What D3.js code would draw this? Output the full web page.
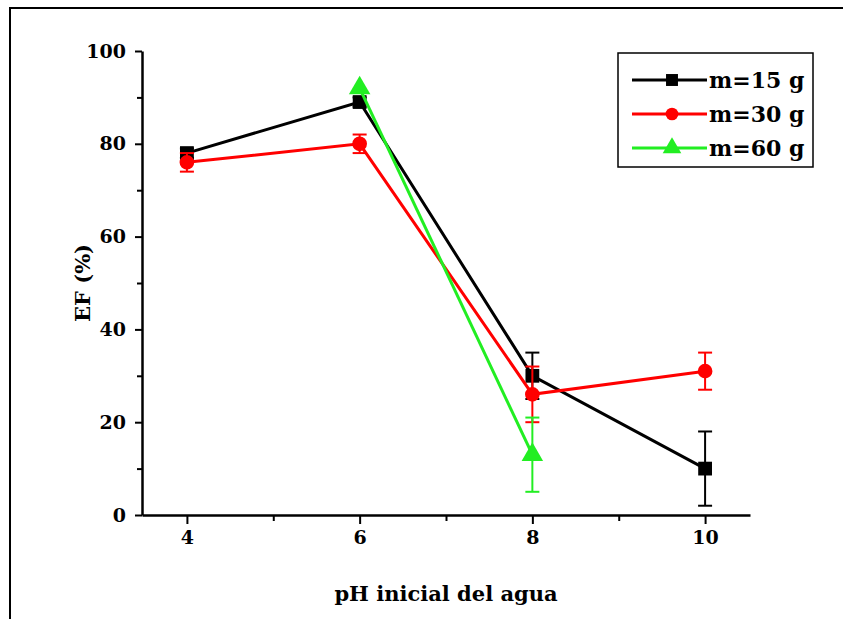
<!DOCTYPE html>
<html>
<head>
<meta charset="utf-8">
<script src="https://cdn.jsdelivr.net/npm/d3@7"></script>
<style>
  body { margin: 0; background: #fff; }
  svg text { font-family: "DejaVu Serif", "Liberation Serif", serif; font-weight: bold; }
</style>
</head>
<body>
<div id="chart"></div>
<script>
// pH values and series (EF %, error)
const phValues = [4, 6, 8, 10];
const m15 = [78, 89, 30, 10];
const m15Err = [1, 1, 5, 8];
const m30 = [76, 80, 26, 31];
const m30Err = [2, 2, 6, 4];
const m60Ph = [6, 8];
const m60 = [92, 13];
const m60Err = [0, 8];
const xTicks = [4, 6, 8, 10];
const yTicks = [0, 20, 40, 60, 80, 100];

const width = 843, height = 619;
const margin = { top: 51, right: 93, bottom: 104, left: 142 };

const svg = d3.select("#chart").append("svg")
    .attr("width", width)
    .attr("height", height);

// outer frame (only top and left edges fall inside the picture)
svg.append("rect")
    .attr("x", 10).attr("y", 8)
    .attr("width", 900).attr("height", 700)
    .attr("fill", "none")
    .attr("stroke", "#000")
    .attr("stroke-width", 2);

const x = d3.scaleLinear()
    .domain([3.48, 10.52])
    .range([margin.left, width - margin.right]);

const y = d3.scaleLinear()
    .domain([0, 100])
    .range([height - margin.bottom, margin.top]);

// axes
svg.append("g")
    .attr("transform", "translate(0," + y(0) + ")")
    .call(d3.axisBottom(x).tickValues(xTicks).tickFormat(d3.format("d")).tickSize(9).tickSizeOuter(0).tickPadding(7));
svg.append("g")
    .attr("transform", "translate(0," + y(0) + ")")
    .call(d3.axisBottom(x).tickValues([5, 7, 9]).tickFormat("").tickSize(6).tickSizeOuter(0))
    .select(".domain").remove();

svg.append("g")
    .attr("transform", "translate(" + x.range()[0] + ",0)")
    .call(d3.axisLeft(y).tickValues(yTicks).tickSize(7).tickSizeOuter(0).tickPadding(9));
svg.append("g")
    .attr("transform", "translate(" + x.range()[0] + ",0)")
    .call(d3.axisLeft(y).tickValues([10, 30, 50, 70, 90]).tickFormat("").tickSize(5).tickSizeOuter(0))
    .select(".domain").remove();

svg.selectAll(".domain").attr("stroke-width", 2.5);
svg.selectAll(".tick line").attr("stroke-width", 2);
svg.selectAll(".tick text").style("font-size", "19px").attr("fill", "#000");

// axis titles
svg.append("text")
    .attr("x", (x.range()[0] + x.range()[1]) / 2)
    .attr("y", 601)
    .attr("text-anchor", "middle")
    .style("font-size", "21px")
    .text("pH inicial del agua");

svg.append("text")
    .attr("transform", "translate(90," + ((y(0) + y(100)) / 2) + ") rotate(-90)")
    .attr("text-anchor", "middle")
    .style("font-size", "21px")
    .text("EF (%)");

// series
const series = [
    { name: "m=15 g", color: "#000000", shape: d3.symbolSquare, size: 190, ph: phValues, ef: m15, err: m15Err },
    { name: "m=30 g", color: "#ff0000", shape: d3.symbolCircle, size: 170, ph: phValues, ef: m30, err: m30Err },
    { name: "m=60 g", color: "#22ee22", shape: d3.symbolTriangle, size: 200, ph: m60Ph, ef: m60, err: m60Err }
];

const line = d3.line().x(d => x(d.ph)).y(d => y(d.ef));

series.forEach(s => {
    const pts = s.ph.map((p, i) => ({ ph: p, ef: s.ef[i], err: s.err[i] }));
    const g = svg.append("g");

    g.append("path")
        .datum(pts)
        .attr("d", line)
        .attr("fill", "none")
        .attr("stroke", s.color)
        .attr("stroke-width", 3);

    // error bars
    const eb = g.selectAll(".err").data(pts.filter(d => d.err > 0)).enter().append("g");
    eb.append("line")
        .attr("x1", d => x(d.ph)).attr("x2", d => x(d.ph))
        .attr("y1", d => y(d.ef + d.err)).attr("y2", d => y(d.ef - d.err))
        .attr("stroke", s.color).attr("stroke-width", 2);
    [1, -1].forEach(sign => {
        eb.append("line")
            .attr("x1", d => x(d.ph) - 7).attr("x2", d => x(d.ph) + 7)
            .attr("y1", d => y(d.ef + sign * d.err)).attr("y2", d => y(d.ef + sign * d.err))
            .attr("stroke", s.color).attr("stroke-width", 2);
    });

    g.selectAll(".pt").data(pts).enter().append("path")
        .attr("transform", d => "translate(" + x(d.ph) + "," + y(d.ef) + ")")
        .attr("d", d3.symbol().type(s.shape).size(s.size))
        .attr("fill", s.color);
});

// legend
const legend = svg.append("g").attr("transform", "translate(618,53)");
legend.append("rect")
    .attr("width", 195).attr("height", 114)
    .attr("fill", "#fff")
    .attr("stroke", "#000")
    .attr("stroke-width", 1.5);

series.forEach((s, i) => {
    const row = legend.append("g").attr("transform", "translate(0," + (27 + i * 34) + ")");
    row.append("line")
        .attr("x1", 14).attr("x2", 89)
        .attr("stroke", s.color).attr("stroke-width", 3);
    row.append("path")
        .attr("transform", "translate(54,0)")
        .attr("d", d3.symbol().type(s.shape).size(s.size * 0.75))
        .attr("fill", s.color);
    row.append("text")
        .attr("x", 91).attr("y", 8)
        .style("font-size", "22px")
        .text(s.name);
});
</script>
</body>
</html>
